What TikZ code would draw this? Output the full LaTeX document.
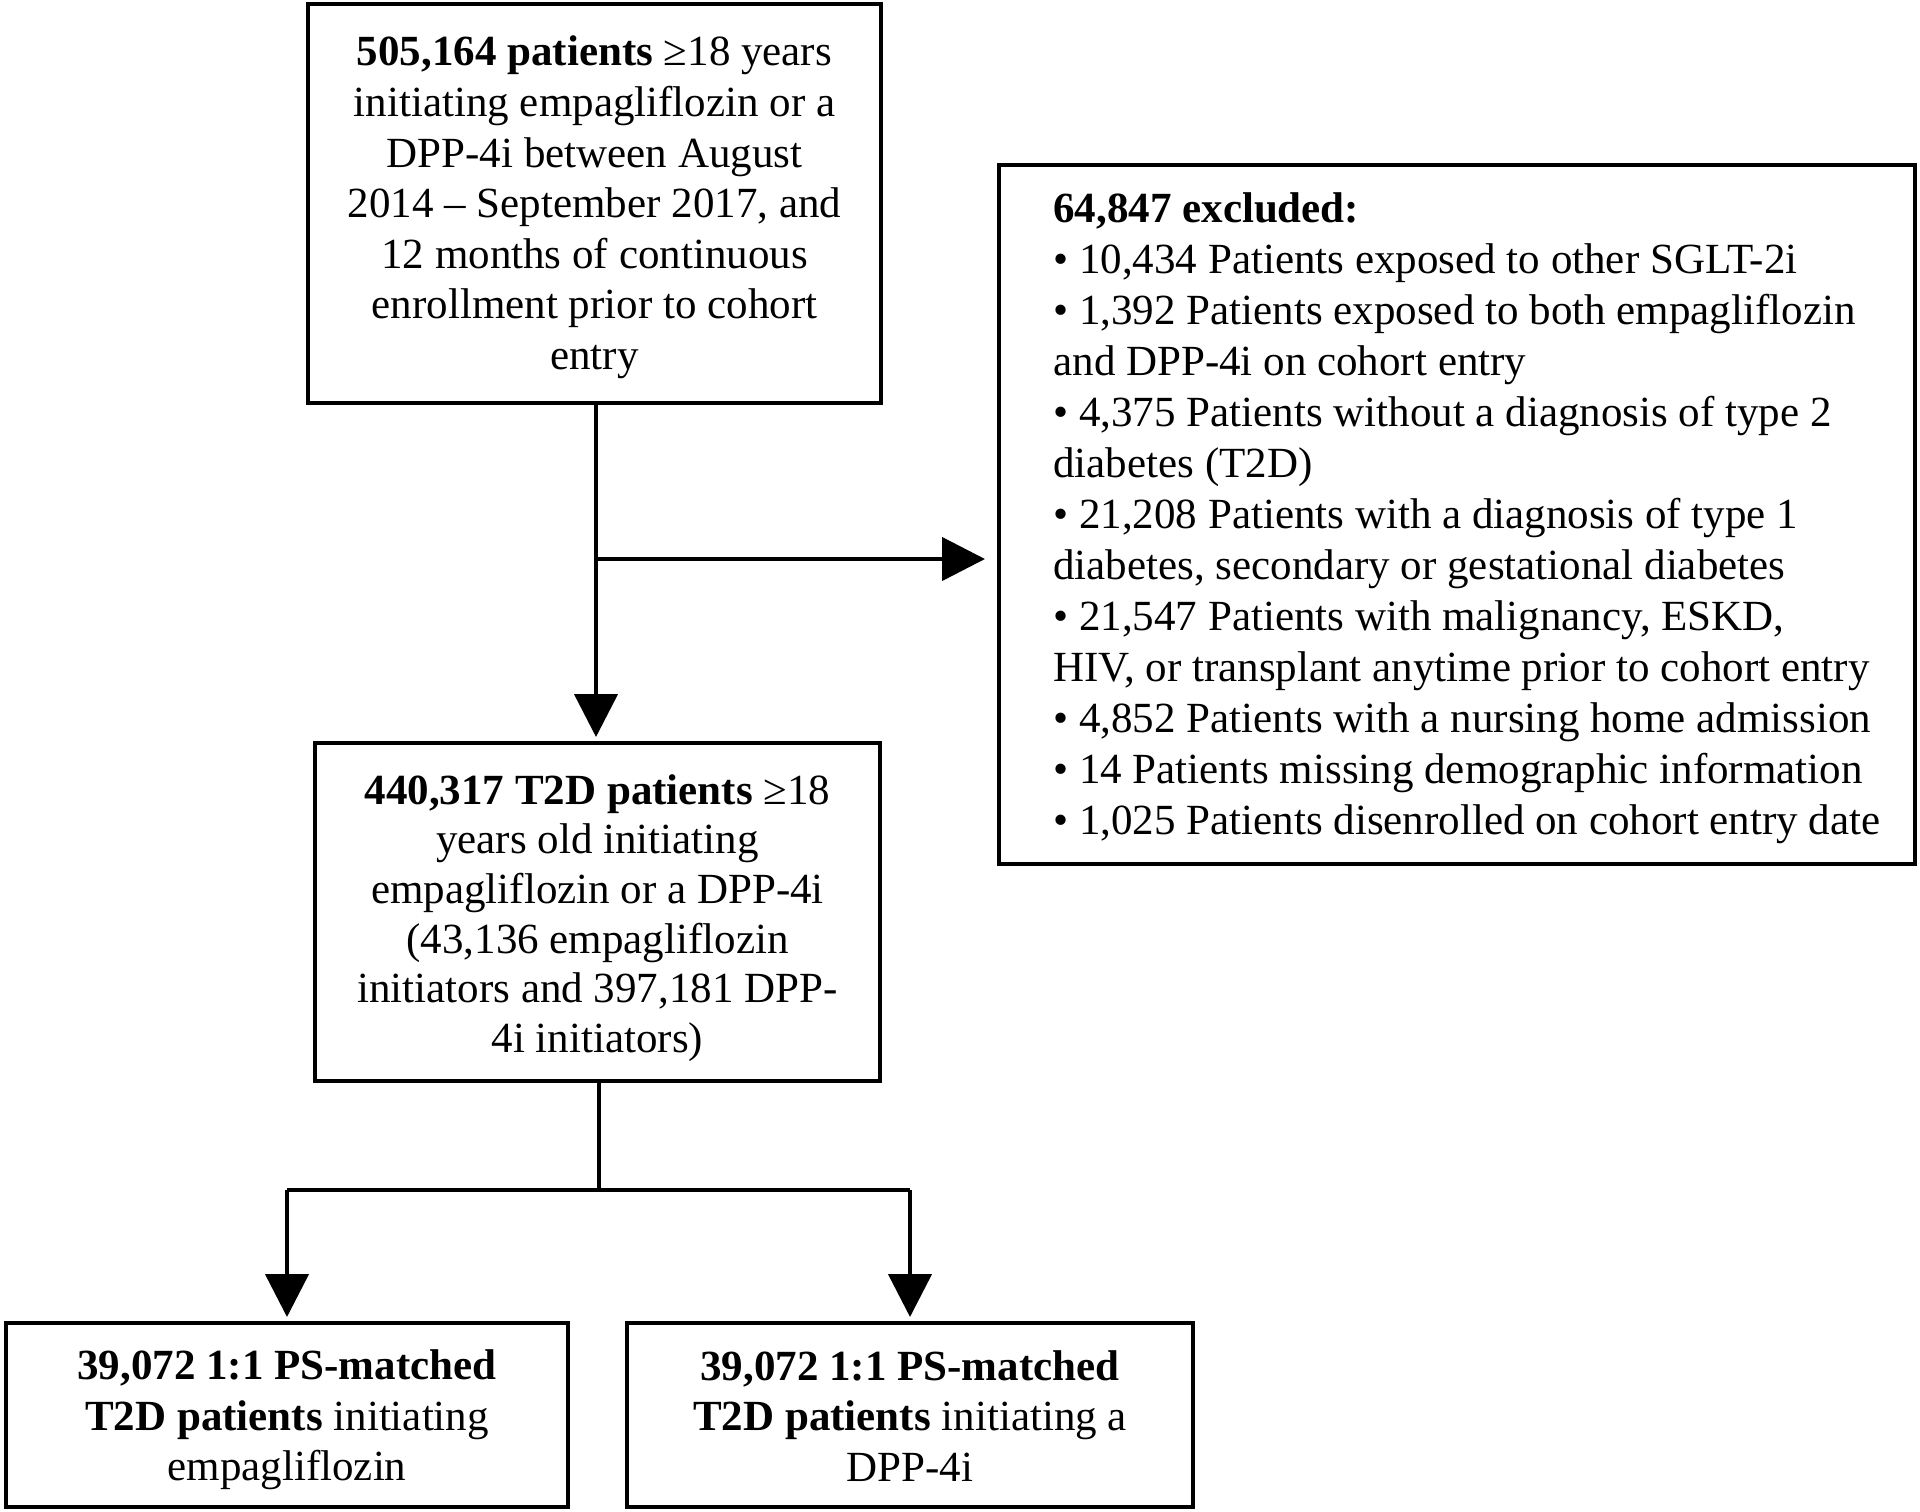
\documentclass[tikz,border=0pt]{standalone}
\usepackage{fontspec}
\setmainfont{Liberation Serif}
\usetikzlibrary{arrows.meta}
\tikzset{
  flowbox/.style={draw, line width=2pt, inner sep=0pt},
  boxtext/.style={inner sep=0pt, align=center,
    font=\fontsize{21.5pt}{25.3pt}\selectfont},
  conn/.style={line width=2.2pt},
  arr/.style={line width=2.2pt, -{Triangle[length=21.5pt,width=21.5pt]}},
  plaintext/.style={inner sep=0pt, align=left,
    font=\fontsize{21.5pt}{25.5pt}\selectfont}
}
\begin{document}
\begin{tikzpicture}[x=0.5pt,y=-0.5pt]
\path[use as bounding box, fill=white] (0,0) rectangle (1920,1511);

\node[flowbox, minimum width=286.5pt, minimum height=199.5pt] (b1) at (594.5,203.5) {};
\node[boxtext] (b1t) at (594.5,207.5)
 {\textbf{505,164 patients} ≥18 years\\ initiating empagliflozin or a\\ DPP-4i between August\\ 2014 – September 2017, and\\ 12 months of continuous\\ enrollment prior to cohort\\ entry};

\node[flowbox, minimum width=458pt, minimum height=349.5pt] (ex) at (1457,514.5) {};
\node[plaintext, anchor=west] (extext) at (1053,518.5)
 {\textbf{64,847 excluded:}\\
  • 10,434 Patients exposed to other SGLT-2i\\
  • 1,392 Patients exposed to both empagliflozin\\
  and DPP-4i on cohort entry\\
  • 4,375 Patients without a diagnosis of type 2\\
  diabetes (T2D)\\
  • 21,208 Patients with a diagnosis of type 1\\
  diabetes, secondary or gestational diabetes\\
  • 21,547 Patients with malignancy, ESKD,\\
  HIV, or transplant anytime prior to cohort entry\\
  • 4,852 Patients with a nursing home admission\\
  • 14 Patients missing demographic information\\
  • 1,025 Patients disenrolled on cohort entry date};

\node[flowbox, minimum width=282.5pt, minimum height=169pt] (b3) at (597.5,912) {};
\node[boxtext, font=\fontsize{21.5pt}{24.85pt}\selectfont] (b3t) at (597.5,918)
 {\textbf{440,317 T2D patients} ≥18\\ years old initiating\\ empagliflozin or a DPP-4i\\ (43,136 empagliflozin\\ initiators and 397,181 DPP-\\ 4i initiators)};

\node[flowbox, minimum width=281pt, minimum height=92pt] (b4) at (287,1415) {};
\node[boxtext] (b4t) at (287,1420)
 {\textbf{39,072 1:1 PS-matched}\\ \textbf{T2D patients} initiating\\ empagliflozin};

\node[flowbox, minimum width=283pt, minimum height=92pt] (b5) at (910,1415) {};
\node[boxtext] (b5t) at (910,1416)
 {\textbf{39,072 1:1 PS-matched}\\ \textbf{T2D patients} initiating a\\ DPP-4i};

% connectors
\coordinate (brk) at (596,559);
\draw[arr, shorten >=2pt] (b1.south -| brk) -- (b3.north -| brk);
\draw[arr, shorten >=6pt] (brk) -- (brk -| ex.west);

\coordinate (split) at (599,1190);
\draw[conn] (b3.south -| split) -- (split);
\draw[conn] (split -| b4.north) -- (split -| b5.north);
\draw[arr, shorten >=2pt] (split -| b4.north) -- (b4.north);
\draw[arr, shorten >=2pt] (split -| b5.north) -- (b5.north);
\end{tikzpicture}
\end{document}
